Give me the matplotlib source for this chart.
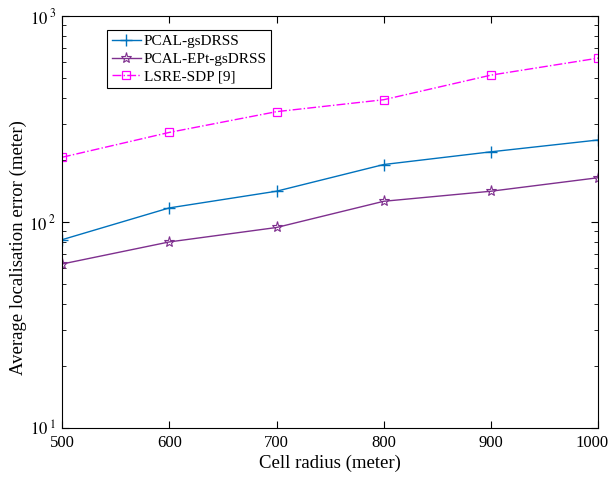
import matplotlib
matplotlib.use('Agg')
import matplotlib.pyplot as plt
import matplotlib.transforms as mtransforms
import numpy as np

plt.rcParams["font.family"] = "Liberation Serif"
plt.rcParams["mathtext.fontset"] = "stix"
plt.rcParams["font.size"] = 12

radius = [500, 600, 700, 800, 900, 1000]
pcal_gs = [82, 117, 141, 190, 219, 250]
pcal_ept = [62.5, 80, 94, 126, 141, 164]
lsre_sdp = [206, 272, 343, 392, 516, 624]

fig = plt.figure(figsize=(6.08, 4.82), dpi=100)
ax = fig.add_axes([0.102, 0.112, 0.882, 0.855])

ax.plot(radius, pcal_gs, '-', marker='+', color='#0072BD', lw=1.0, ms=8, mew=1.0, label='PCAL-gsDRSS')
ax.plot(radius, pcal_ept, '-', marker='*', color='#7E2F8E', lw=1.0, ms=8, mew=0.8, mfc='none', label='PCAL-EPt-gsDRSS')
ax.plot(radius, lsre_sdp, '-.', marker='s', color='#FF00FF', lw=1.0, ms=6, mew=0.9, mfc='none', label='LSRE-SDP [9]')

ax.set_yscale('log')
ax.set_xlim(500, 1000)
ax.set_ylim(10, 1000)
ax.set_xticks(radius)
ax.set_yticks([10, 100, 1000])
ax.set_yticklabels([r'$10^{\ 1}$', r'$10^{\ 2}$', r'$10^{\ 3}$'])
ax.tick_params(which='both', direction='in', top=True, right=True, labelsize=12)
ax.tick_params(which='major', length=5)
ax.tick_params(which='minor', length=3)
ax.tick_params(axis='x', which='minor', bottom=False, top=False)
ax.tick_params(axis='x', pad=5)
ax.tick_params(axis='y', pad=4)
ax.set_xlabel('Cell radius (meter)', fontsize=13.5, labelpad=3)
ax.set_ylabel('Average localisation error (meter)', fontsize=13.5)
ax.yaxis.set_label_coords(-0.066, 0.437)

# keep the last x label inside the figure
last = ax.get_xticklabels()[-1]
last.set_transform(last.get_transform() + mtransforms.ScaledTranslation(-6/100, 0, fig.dpi_scale_trans))

leg = ax.legend(loc='upper left', bbox_to_anchor=(0.07, 0.984), fancybox=False,
                edgecolor='black', framealpha=1, fontsize=11, handlelength=1.9,
                borderpad=0.3, labelspacing=0.25, handletextpad=0.2)
leg.get_frame().set_linewidth(0.8)

fig.savefig('out.png', dpi=100)
